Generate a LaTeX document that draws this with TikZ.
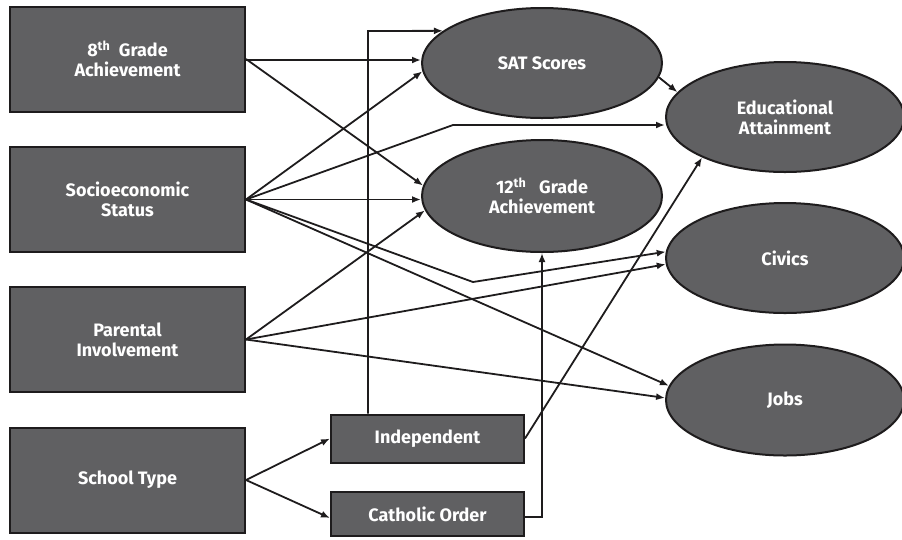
\documentclass[tikz,border=0pt]{standalone}
\usepackage{fontspec}
\setmainfont{Fira Sans}
\usetikzlibrary{shapes.geometric,arrows.meta,calc}
\definecolor{boxgray}{RGB}{96,96,98}
\definecolor{edge}{RGB}{30,28,29}
\begin{document}
\begin{tikzpicture}[x=1pt,y=-1pt,
  lbl/.style={text=white, font=\bfseries\fontsize{18}{20}\selectfont, align=center},
  box/.style={lbl, draw=edge, line width=2pt, fill=boxgray, inner sep=0pt, minimum width=235pt, minimum height=105pt},
  smallbox/.style={box, minimum width=193pt, minimum height=48pt},
  oval/.style={lbl, ellipse, draw=edge, line width=2pt, fill=boxgray, inner sep=0pt, minimum width=238pt, minimum height=110pt},
  conn/.style={draw=edge, line width=1.8pt, -{Latex[length=9pt,width=7pt]}}]
\useasboundingbox (0,0) rectangle (902,539);

% left boxes
\node[box] (eight) at (127.5,59) {8\textsuperscript{th}~~Grade\\Achievement};
\node[box] (ses) at (127.5,199.5) {Socioeconomic\\Status};
\node[box] (par) at (127.5,339.5) {Parental\\Involvement};
\node[box] (school) at (127.5,480) {School Type};

% school type boxes
\node[smallbox] (ind) at (427.5,438.5) {Independent};
\node[smallbox, minimum height=44pt] (cath) at (427.5,514) {Catholic Order};

% ellipses
\node[oval, minimum width=240pt] (sat) at (542,63) {SAT Scores};
\node[oval, minimum width=240pt, minimum height=112pt] (twelve) at (542,196) {12\textsuperscript{th}~~~Grade\\Achievement};
\node[oval] (ea) at (785,117) {Educational\\Attainment};
\node[oval] (civ) at (785,258) {Civics};
\node[oval, minimum height=111pt] (jobs) at (785,400) {Jobs};

% bend points
\coordinate (b1) at (453,125);
\coordinate (b2) at (473,282);
\coordinate (b3) at (368,31);

% connectors
\draw[conn] (eight.east |- 0,60) -- (sat.west |- 0,60);
\draw[conn] (eight.east) -- (twelve.175);
\draw[conn] (ses.east) -- (sat.184);
\draw[conn] (ses.east) -- (b1) -- (ea.west |- b1);
\draw[conn] (ses.east) -- (twelve.west |- ses.east);
\draw[conn] (ses.east) -- (b2) -- (civ.177);
\draw[conn] (ses.east) -- (jobs.173);
\draw[conn] (par.east) -- (twelve.187);
\draw[conn] (par.east) -- (civ.183);
\draw[conn] (par.east) -- (jobs.179);
\draw[conn] (school.east) -- (ind.west);
\draw[conn] (school.east) -- ($(cath.west)+(0,4)$);
\draw[conn] (ind.north -| b3) -- (b3) -- (sat.162);
\draw[conn] (ind.east) -- (ea.206);
\draw[conn] ($(cath.east)+(0,3)$) -| (twelve.south);
\draw[conn] (sat.353) -- (ea.167);
\end{tikzpicture}
\end{document}
